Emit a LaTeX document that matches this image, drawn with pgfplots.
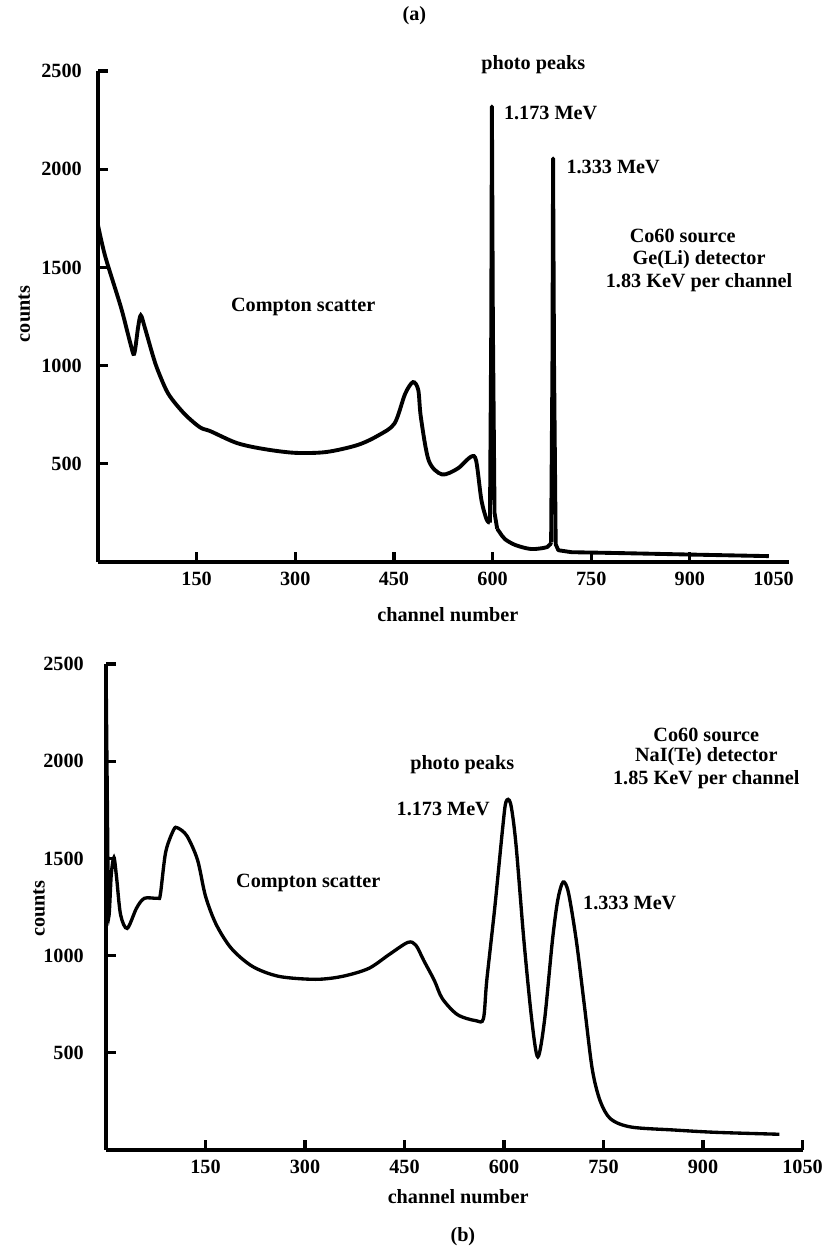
\documentclass[border=0pt]{standalone}
\usepackage{fontspec}
\setmainfont{Liberation Serif}
\usepackage{pgfplots}
\pgfplotsset{compat=1.18}

\newcommand\lbl{\fontsize{11.5}{13.8}\selectfont\bfseries}

\pgfplotsset{
  spectrum/.style={
    scale only axis,
    xmin=0, xmax=1050, ymin=0, ymax=2500,
    axis x line*=bottom, axis y line*=left,
    axis line style={line width=1.8pt},
    tick align=inside,
    major tick length=0.2cm,
    every tick/.style={black, line width=1.8pt},
    xtick={150,300,...,1050},
    ytick={500,1000,...,2500},
    /pgf/number format/1000 sep={},
    /pgf/number format/assume math mode=true,
    scaled ticks=false,
    tick label style={font=\lbl},
    xticklabel style={yshift=-0.08cm},
    yticklabel style={xshift=-0.2cm},
    clip=false,
  },
}

\begin{document}
\begin{tikzpicture}
\useasboundingbox (0,0) rectangle (16.46,-25.02);

% (a) Ge(Li) detector
\begin{axis}[spectrum,
  at={(1.96cm,-11.24cm)}, anchor=south west,
  width=13.81cm, height=9.82cm,
  xtick={150,300,...,900}, extra x ticks={1050},
  extra x tick style={major tick length=0pt,
    xticklabel style={xshift=-0.3cm}},
]
\addplot[black, line width=2.2pt, smooth, tension=0.5] coordinates {
  (0,1715) (11,1556) (35,1296) (49,1116) (55,1060) (61,1196) (65,1256)
  (71,1196) (83,1056) (91,976) (107,856) (131,756) (155,686) (171,666)
  (211,606) (251,576) (299,556) (347,560) (395,596) (427,646) (451,706)
  (467,856) (479,916) (487,876) (491,736) (503,516) (523,446) (547,476)
  (567,536) (575,516) (583,316) (591,216) (596,200)
};
\addplot[black, line width=2.2pt, line join=round] coordinates {
  (596,200) (598,1200) (599,2320) (600.5,1200) (603,250) (607,170)
};
\addplot[black, line width=2.2pt, smooth, tension=0.5] coordinates {
  (607,170) (611,150) (619,116) (635,86) (659,66) (683,76) (689,100)
};
\addplot[black, line width=2.2pt, line join=round] coordinates {
  (689,100) (691,1000) (692,2055) (693.5,1000) (696,90) (700,60)
  (720,50) (800,45) (900,38) (1020,30)
};
\node[font=\lbl] at (axis cs:481,2780) {(a)};
\node[font=\lbl] at (axis cs:662,2530) {photo peaks};
\node[font=\lbl, anchor=west] at (axis cs:608,2287) {1.173 MeV};
\node[font=\lbl, anchor=west] at (axis cs:703,2013) {1.333 MeV};
\node[font=\lbl] at (axis cs:889,1658) {Co60 source};
\node[font=\lbl] at (axis cs:914,1541) {Ge(Li) detector};
\node[font=\lbl] at (axis cs:914,1424) {1.83 KeV per channel};
\node[font=\lbl] at (axis cs:312,1298) {Compton scatter};
\node[font=\lbl] at (axis cs:532,-269) {channel number};
\node[font=\lbl, rotate=90] at (axis cs:-112,1263) {counts};
\end{axis}

% (b) NaI(Te) detector
\begin{axis}[spectrum,
  at={(2.12cm,-23.0cm)}, anchor=south west,
  width=13.93cm, height=9.72cm,
  yticklabel style={xshift=-0.12cm},
]
\addplot[black, line width=1.9pt, smooth, tension=0.5] coordinates {
  (0,2500) (2,1800) (4,1210) (8,1420) (12,1505) (16,1400) (22,1210)
  (32,1140) (46,1244) (58,1295) (78,1295) (82,1316) (90,1533) (102,1647)
  (108,1657) (122,1616) (138,1492) (150,1306) (166,1161) (189,1037)
  (221,944) (261,893) (316,878) (356,893) (396,934) (427,1006) (455,1068)
  (467,1054) (479,975) (495,872) (507,779) (530,696) (558,665) (569,676)
  (574,872) (586,1244) (598,1657) (603,1791) (610,1781) (618,1574)
  (630,1078) (642,665) (651,479) (661,665) (673,1078) (681,1285)
  (689,1378) (697,1326) (709,1078) (721,748) (733,417) (745,252)
  (761,159) (792,118) (856,103) (919,91) (1015,81)
};
\node[font=\lbl] at (axis cs:537,1983) {photo peaks};
\node[font=\lbl, anchor=east] at (axis cs:588,1753) {1.173 MeV};
\node[font=\lbl, anchor=west] at (axis cs:710,1272) {1.333 MeV};
\node[font=\lbl] at (axis cs:905,2137) {Co60 source};
\node[font=\lbl] at (axis cs:905,2024) {NaI(Te) detector};
\node[font=\lbl] at (axis cs:905,1907) {1.85 KeV per channel};
\node[font=\lbl] at (axis cs:305,1375) {Compton scatter};
\node[font=\lbl] at (axis cs:531,-240) {channel number};
\node[font=\lbl] at (axis cs:538,-445) {(b)};
\node[font=\lbl, rotate=90] at (axis cs:-101,1242) {counts};
\end{axis}
\end{tikzpicture}
\end{document}
